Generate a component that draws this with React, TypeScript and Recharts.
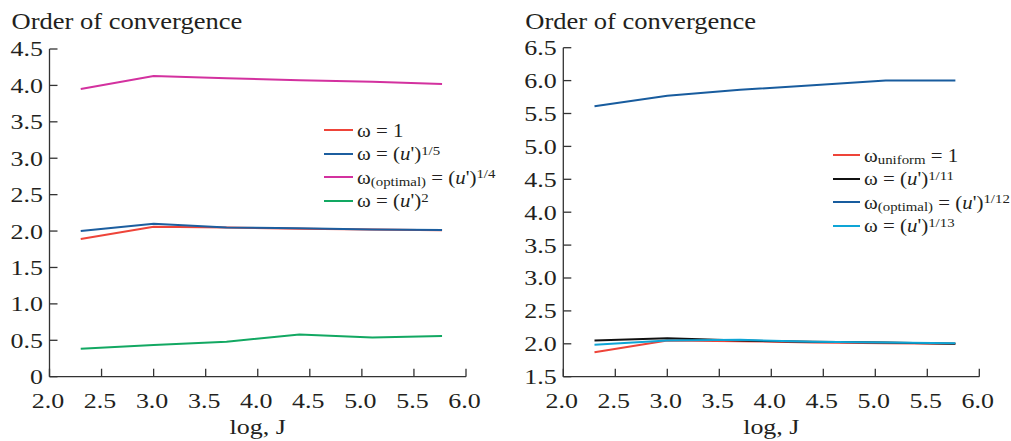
import { Label, Legend, Line, LineChart, XAxis, YAxis } from "recharts";

const SERIF = "'Liberation Serif', 'Times New Roman', serif";
const INK = "#231f20";
const AXIS = "#333333";
const SX = 1.18; // the source type is set wide

// x positions, log J
const logJ = [2.3, 3.0, 3.7, 4.4, 5.1, 5.77];
const xTicks = [2, 2.5, 3, 3.5, 4, 4.5, 5, 5.5, 6];

// left panel
const leftTicks = [0, 0.5, 1, 1.5, 2, 2.5, 3, 3.5, 4, 4.5];
const leftUniform = [1.89, 2.06, 2.05, 2.03, 2.02, 2.01];
const leftFifth = [2.0, 2.1, 2.05, 2.04, 2.02, 2.015];
const leftOptimal = [3.95, 4.13, 4.1, 4.07, 4.05, 4.02];
const leftSquare = [0.385, 0.435, 0.48, 0.58, 0.54, 0.56];
const leftColors = ["#ee4439", "#1c5e9f", "#d3319f", "#12a862"];
const leftSubs = ["", "", "(optimal)", ""];
const leftRhs = ["1", "(u')", "(u')", "(u')"];
const leftSups = ["", "1/5", "1/4", "2"];

// right panel
const rightTicks = [1.5, 2, 2.5, 3, 3.5, 4, 4.5, 5, 5.5, 6, 6.5];
const rightUniform = [1.87, 2.05, 2.04, 2.02, 2.01, 2.0];
const rightEleventh = [2.05, 2.085, 2.05, 2.03, 2.02, 2.0];
const rightOptimal = [5.61, 5.77, 5.86, 5.93, 6.0, 6.0];
const rightThirteenth = [1.985, 2.05, 2.06, 2.03, 2.02, 2.01];
const rightColors = ["#ee4439", "#111111", "#185c9e", "#0ea5d6"];
const rightSubs = ["uniform", "", "(optimal)", ""];
const rightRhs = ["1", "(u')", "(u')", "(u')"];
const rightSups = ["", "1/11", "1/12", "1/13"];

const leftData = logJ.map((x, i) => ({
  x,
  s0: leftUniform[i],
  s1: leftFifth[i],
  s2: leftOptimal[i],
  s3: leftSquare[i],
}));
const rightData = logJ.map((x, i) => ({
  x,
  s0: rightUniform[i],
  s1: rightEleventh[i],
  s2: rightOptimal[i],
  s3: rightThirteenth[i],
}));

const stretch = (cx: number) => `translate(${cx} 0) scale(${SX} 1) translate(${-cx} 0)`;

function XTick(props: any) {
  const { x, y, payload } = props;
  const tx = x - 1.5;
  return (
    <g>
      <line x1={x} y1={y} x2={x} y2={y - 8} stroke={AXIS} strokeWidth={1.3} />
      <text x={tx} y={y + 31} textAnchor="middle" fontSize={22} fill={INK} fontFamily={SERIF} transform={stretch(tx)}>
        {Number(payload.value).toFixed(1)}
      </text>
    </g>
  );
}

function YTick(props: any) {
  const { x, y, payload } = props;
  const v = Number(payload.value);
  const tx = x - 6.5;
  return (
    <g>
      <line x1={x} y1={y} x2={x + 8} y2={y} stroke={AXIS} strokeWidth={1.3} />
      <text x={tx} y={y + 7.5} textAnchor="end" fontSize={22} fill={INK} fontFamily={SERIF} transform={stretch(tx)}>
        {v === 0 ? "0" : v.toFixed(1)}
      </text>
    </g>
  );
}

const subStyle = { fontSize: 13.5, verticalAlign: "baseline", position: "relative" as const, top: 2.5 };
const supStyle = { fontSize: 13.5, verticalAlign: "baseline", position: "relative" as const, top: -5.5 };

function Formula({ sub, rhs, sup }: { sub: string; rhs: string; sup: string }) {
  return (
    <span style={{ display: "inline-block", transform: "scaleX(1.1)", transformOrigin: "left center" }}>
      ω{sub && <span style={subStyle}>{sub}</span>} ={" "}
      {rhs === "(u')" ? (
        <span>
          (<i>u</i>')
        </span>
      ) : (
        rhs
      )}
      {sup && <span style={supStyle}>{sup}</span>}
    </span>
  );
}

function makeLegend(subs: string[], rhs: string[], sups: string[], lineW: number) {
  return (props: any) => (
    <div style={{ fontFamily: SERIF, fontSize: 19, color: INK, lineHeight: 1 }}>
      {(props.payload || []).map((p: any, i: number) => (
        <div key={i} style={{ display: "flex", alignItems: "center", height: 23.5, whiteSpace: "nowrap" }}>
          <span style={{ display: "inline-block", width: lineW, borderTop: `2.5px solid ${p.color}`, marginRight: 4 }} />
          <Formula sub={subs[i]} rhs={rhs[i]} sup={sups[i]} />
        </div>
      ))}
    </div>
  );
}

function Panel({
  data,
  colors,
  yTicks,
  yAxisW,
  top,
  right,
  legend,
  legendPos,
}: {
  data: any[];
  colors: string[];
  yTicks: number[];
  yAxisW: number;
  top: number;
  right: number;
  legend: (p: any) => any;
  legendPos: { left: number; top: number };
}) {
  return (
    <LineChart width={506} height={441} data={data} margin={{ top, right, bottom: 0, left: 0 }}>
      <XAxis
        dataKey="x"
        type="number"
        domain={[2, 6]}
        ticks={xTicks}
        height={64.3}
        tickSize={0}
        tickMargin={0}
        tickLine={false}
        tick={XTick}
        axisLine={{ stroke: AXIS, strokeWidth: 1.3 }}
        interval={0}
      >
        <Label
          content={(p: any) => {
            const vb = p.viewBox;
            const cx = vb.x + vb.width / 2;
            return (
              <text x={cx} y={vb.y + 57.5} textAnchor="middle" fontSize={22} fill={INK} fontFamily={SERIF} transform={stretch(cx)}>
                log, J
              </text>
            );
          }}
        />
      </XAxis>
      <YAxis
        type="number"
        domain={[yTicks[0], yTicks[yTicks.length - 1]]}
        ticks={yTicks}
        width={yAxisW}
        tickSize={0}
        tickMargin={0}
        tickLine={false}
        tick={YTick}
        axisLine={{ stroke: AXIS, strokeWidth: 1.3 }}
        interval={0}
      >
        <Label
          content={(p: any) => {
            const vb = p.viewBox;
            const tx = vb.x + vb.width - 38;
            return (
              <text x={tx} y={29.5} textAnchor="start" fontSize={22.5} fill={INK} fontFamily={SERIF} transform={stretch(tx)}>
                Order of convergence
              </text>
            );
          }}
        />
      </YAxis>
      <Legend
        layout="horizontal"
        verticalAlign="middle"
        align="center"
        content={legend}
        wrapperStyle={{ left: legendPos.left, top: legendPos.top, width: "auto" }}
      />
      {["s0", "s1", "s2", "s3"].map((k, i) => (
        <Line
          key={k}
          dataKey={k}
          type="linear"
          stroke={colors[i]}
          strokeWidth={2}
          dot={false}
          isAnimationActive={false}
        />
      ))}
    </LineChart>
  );
}

export default function App() {
  return (
    <div style={{ position: "absolute", left: 0, top: 0, width: 1011, height: 441, background: "#fff" }}>
      <div style={{ position: "absolute", left: 0, top: 0 }}>
        <Panel
          data={leftData}
          colors={leftColors}
          yTicks={leftTicks}
          yAxisW={49.5}
          top={49}
          right={40}
          legend={makeLegend(leftSubs, leftRhs, leftSups, 29)}
          legendPos={{ left: 324, top: 118.4 }}
        />
      </div>
      <div style={{ position: "absolute", left: 505, top: 0 }}>
        <Panel
          data={rightData}
          colors={rightColors}
          yTicks={rightTicks}
          yAxisW={58.3}
          top={47.7}
          right={31.7}
          legend={makeLegend(rightSubs, rightRhs, rightSups, 27)}
          legendPos={{ left: 327.7, top: 143.3 }}
        />
      </div>
    </div>
  );
}
